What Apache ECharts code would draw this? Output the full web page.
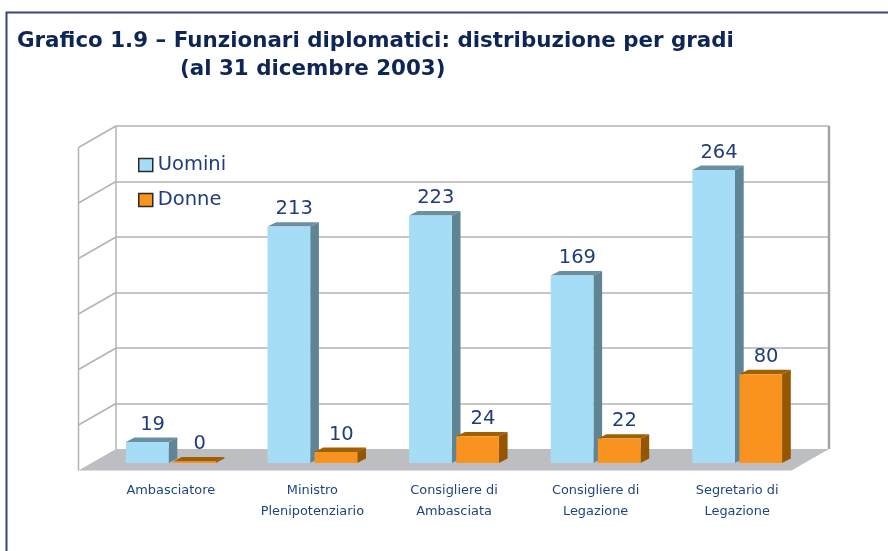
<!DOCTYPE html>
<html><head><meta charset="utf-8">
<script src="https://cdn.jsdelivr.net/npm/echarts@6/dist/echarts.min.js"></script>
<style>html,body{margin:0;padding:0;background:#fff}#c{width:888px;height:551px}</style>
</head><body><div id="c"></div><script>
// ---- data ----
const categories = ['Ambasciatore', 'Ministro\nPlenipotenziario', 'Consigliere di\nAmbasciata', 'Consigliere di\nLegazione', 'Segretario di\nLegazione'];
const uomini = [19, 213, 223, 169, 264];
const donne = [0, 10, 24, 22, 80];
const yTicks = [0, 50, 100, 150, 200, 250, 300];
const seriesNames = ['Uomini', 'Donne'];
const titleLine1 = 'Grafico 1.9 \u2013 Funzionari diplomatici: distribuzione per gradi';
const titleLine2 = '(al 31 dicembre 2003)';

// ---- style ----
const FONT = 'DejaVu Sans';
const TEXT_BLUE = '#1F3D7A';
const colors = [
  { front: '#A6DDF6', side: '#5F8494', top: '#6A8FA0' },
  { front: '#F7931E', side: '#955600', top: '#A25F00' }
];
const DEPTH_X = 8.7, DEPTH_Y = 4.4;
const WALL_DX = -37.5, WALL_DY = 21.5;
const FLOOR_LEVEL = 9;
const GRID_COLOR = '#B3B3B3';

const chart = echarts.init(document.getElementById('c'), null, { renderer: 'canvas' });

function barItem(kind) {
  return function (params, api) {
    const cat = api.value(0), val = api.value(1);
    const top = api.coord([cat, val]);
    const base = api.coord([cat, 0]);
    const band = api.size([1, 0])[0];
    const w = band * 0.3015, gap = band * 0.031;
    const x0 = kind === 0 ? top[0] - gap / 2 - w : top[0] + gap / 2;
    const yb = base[1];
    const yt = Math.min(top[1], yb - 1.5);
    const c = colors[kind];
    return {
      type: 'group', children: [
        { type: 'polygon', shape: { points: [[x0 + w, yt], [x0 + w + DEPTH_X, yt - DEPTH_Y], [x0 + w + DEPTH_X, yb - DEPTH_Y], [x0 + w, yb]] }, style: { fill: c.side } },
        { type: 'polygon', shape: { points: [[x0, yt], [x0 + DEPTH_X, yt - DEPTH_Y], [x0 + w + DEPTH_X, yt - DEPTH_Y], [x0 + w, yt]] }, style: { fill: c.top } },
        { type: 'rect', shape: { x: x0, y: yt, width: w, height: yb - yt }, style: { fill: c.front } },
        { type: 'text', x: x0 + (w + DEPTH_X) / 2 + 1, y: yt - DEPTH_Y - 3,
          style: { text: String(val), fill: TEXT_BLUE, fontSize: 19.5, fontFamily: FONT, align: 'center', verticalAlign: 'bottom' } }
      ]
    };
  };
}

function ln(x1, y1, x2, y2, color, width) {
  return { type: 'line', shape: { x1, y1, x2, y2 }, style: { stroke: color || GRID_COLOR, lineWidth: width || 1.5 } };
}

function wallItem(params, api) {
  const maxV = yTicks[yTicks.length - 1];
  const tl = api.coord([0, maxV]);
  const tr = api.coord([1, maxV]);
  const fl = api.coord([0, FLOOR_LEVEL]);
  const fr = api.coord([1, FLOOR_LEVEL]);
  const ch = [];
  ch.push({ type: 'polygon', shape: { points: [fl, fr, [fr[0] + WALL_DX, fr[1] + WALL_DY], [fl[0] + WALL_DX, fl[1] + WALL_DY]] }, style: { fill: '#BDBEC1' } });
  ch.push(ln(tl[0], tl[1], fl[0], fl[1]));
  ch.push(ln(tr[0], tr[1], fr[0], fr[1], '#A4A4A4', 2.5));
  yTicks.filter(v => v > 0).forEach(v => {
    const p = api.coord([0, v]);
    ch.push(ln(p[0], p[1], p[0] + WALL_DX, p[1] + WALL_DY));
  });
  ch.push(ln(tl[0] + WALL_DX, tl[1] + WALL_DY, fl[0] + WALL_DX, fl[1] + WALL_DY));
  return { type: 'group', children: ch };
}

const splitColors = yTicks.map((v, i) => i === 0 ? 'rgba(0,0,0,0)' : GRID_COLOR);

chart.setOption({
  animation: false,
  backgroundColor: '#ffffff',
  title: [
    { text: titleLine1, left: 12, top: 26, textStyle: { fontFamily: FONT, fontWeight: 'bold', fontSize: 21.4, color: '#0E2656' } },
    { text: titleLine2, left: 175, top: 54, textStyle: { fontFamily: FONT, fontWeight: 'bold', fontSize: 21.4, color: '#0E2656' } }
  ],
  graphic: [
    { type: 'rect', shape: { x: 6.5, y: 12.5, width: 900, height: 600 }, style: { fill: null, stroke: '#33447F', lineWidth: 2 }, z: 0 }
  ],
  legend: {
    data: seriesNames, orient: 'vertical', left: 133, top: 150,
    itemWidth: 14, itemHeight: 13, itemGap: 15, icon: 'rect',
    itemStyle: { borderColor: '#2A2A2A', borderWidth: 1.5 },
    textStyle: { fontFamily: FONT, fontSize: 19.5, color: TEXT_BLUE },
    selectedMode: false
  },
  grid: [
    { left: 100, right: 80, top: 130, bottom: 88 },
    { left: 116, right: 59, top: 126, bottom: 92 }
  ],
  xAxis: [
    { type: 'category', gridIndex: 0, data: categories,
      axisLine: { show: false }, axisTick: { show: false },
      axisLabel: { margin: 17, fontFamily: FONT, fontSize: 12.9, lineHeight: 21, color: '#1F4580', interval: 0 } },
    { type: 'value', gridIndex: 1, min: 0, max: 1, show: false }
  ],
  yAxis: [
    { type: 'value', gridIndex: 0, min: 0, max: 300, interval: 50, show: false },
    { type: 'value', gridIndex: 1, min: 0, max: 300, interval: 50,
      axisLine: { show: false }, axisTick: { show: false }, axisLabel: { show: false },
      splitLine: { show: true, lineStyle: { color: splitColors, width: 1.5 } } }
  ],
  series: [
    { type: 'custom', name: 'wall', xAxisIndex: 1, yAxisIndex: 1, data: [[0, 0]], renderItem: wallItem, silent: true, z: 1, clip: false },
    { type: 'custom', name: seriesNames[0], xAxisIndex: 0, yAxisIndex: 0, itemStyle: { color: colors[0].front },
      data: uomini.map((v, i) => [i, v]), renderItem: barItem(0), z: 3, clip: false },
    { type: 'custom', name: seriesNames[1], xAxisIndex: 0, yAxisIndex: 0, itemStyle: { color: colors[1].front },
      data: donne.map((v, i) => [i, v]), renderItem: barItem(1), z: 3, clip: false }
  ]
});
</script></body></html>
